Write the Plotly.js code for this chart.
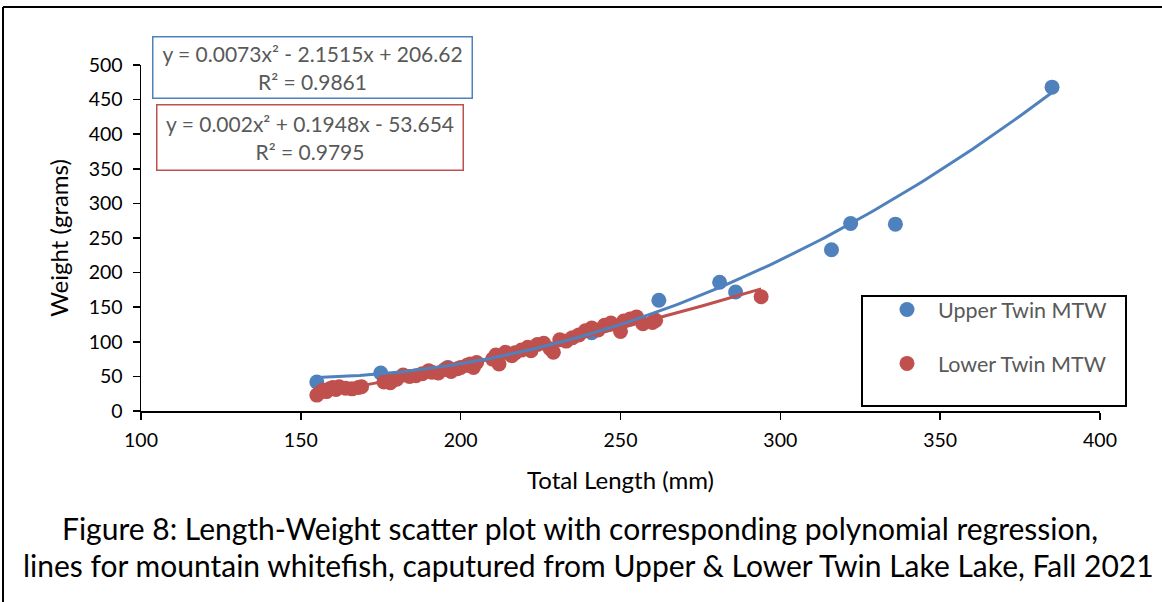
<!DOCTYPE html>
<html><head><meta charset="utf-8">
<script src="https://cdn.plot.ly/plotly-3.0.1.min.js"></script>
<style>html,body{margin:0;padding:0;background:#fff}#chart{width:1162px;height:602px}</style>
</head><body><div id="chart"></div>
<script>
// ---- data ----
const upperName = 'Upper Twin MTW';
const lowerName = 'Lower Twin MTW';
const upperLength = [155, 175, 196, 241, 262, 281, 286, 316, 322, 336, 385];
const upperWeight = [42, 55, 63, 113, 160, 186, 172, 233, 271, 270, 468];
const lowerLength = [155,156,157,158,159,160,161,162,164,166,168,169,176,177,178,180,182,184,186,188,190,191,193,195,196,197,199,200,202,203,204,205,210,211,212,214,216,217,219,221,222,224,226,228,229,231,233,235,237,239,241,243,245,247,250,251,253,255,257,260,261,294];
const lowerWeight = [23,27,30,28,32,34,31,35,33,32,34,35,42,44,41,46,52,50,51,54,58,56,55,60,62,57,61,63,66,68,63,70,75,81,68,85,80,84,88,92,87,96,98,90,85,103,101,106,110,116,120,117,124,127,115,130,133,136,126,128,131,165];
// polynomial trendline coefficients (a x^2 + b x + c), as printed on the chart
const upperCoef = [0.0073, -2.1515, 206.62];
const lowerCoef = [0.002, 0.1948, -53.654];
const upperEqText = ['y = 0.0073x² - 2.1515x + 206.62', 'R² = 0.9861'];
const lowerEqText = ['y = 0.002x² + 0.1948x - 53.654', 'R² = 0.9795'];
const xTicks = [100, 150, 200, 250, 300, 350, 400];
const yTicks = [0, 50, 100, 150, 200, 250, 300, 350, 400, 450, 500];
const xTitle = 'Total Length (mm)';
const yTitle = 'Weight (grams)';
const caption1 = 'Figure 8: Length-Weight scatter plot with corresponding polynomial regression,';
const caption2 = 'lines for mountain whitefish, caputured from Upper & Lower Twin Lake Lake, Fall 2021';

const BLUE = '#4F81BD', RED = '#C0504D', GREY = '#595959';
const FONT = 'Lato, Carlito, Calibri, sans-serif';

function trend(xs, coef) {
  const lo = Math.min(...xs), hi = Math.max(...xs);
  const X = [], Y = [];
  const n = 120;
  for (let i = 0; i <= n; i++) {
    const x = lo + (hi - lo) * i / n;
    X.push(x); Y.push(coef[0]*x*x + coef[1]*x + coef[2]);
  }
  return {X, Y};
}
const tu = trend(upperLength, upperCoef);
const tl = trend(lowerLength, lowerCoef);

const traces = [
  {x: upperLength, y: upperWeight, type: 'scatter', mode: 'markers', name: upperName,
   legendgroup: 'u', marker: {color: BLUE, size: 15}},
  {x: lowerLength, y: lowerWeight, type: 'scatter', mode: 'markers', name: lowerName,
   legendgroup: 'l', marker: {color: RED, size: 15}},
  {x: tl.X, y: tl.Y, type: 'scatter', mode: 'lines', showlegend: false, hoverinfo: 'skip',
   line: {color: RED, width: 3}},
  {x: tu.X, y: tu.Y, type: 'scatter', mode: 'lines', showlegend: false, hoverinfo: 'skip',
   line: {color: BLUE, width: 3}}
];

const L = 141, R = 1100, T = 65, B = 411;
const px = v => (v - L) / (R - L);
const py = v => (B - v) / (B - T);

const axBase = {showgrid: false, zeroline: false, showline: true, linecolor: '#000', linewidth: 1.5,
  tickcolor: '#000', tickwidth: 1.5, ticklen: 7};

const layout = {
  width: 1162, height: 602,
  margin: {l: L, r: 1162 - R, t: T, b: 602 - B},
  paper_bgcolor: '#fff', plot_bgcolor: '#fff',
  font: {family: FONT, color: '#000', size: 19.5},
  showlegend: true,
  xaxis: Object.assign({}, axBase, {range: [100, 400], tickvals: xTicks, ticks: 'outside',
    tickfont: {size: 19.5, color: '#000'}, ticklabelstandoff: 4,
    title: {text: xTitle, font: {size: 24, color: '#000'}, standoff: 22}}),
  yaxis: Object.assign({}, axBase, {range: [0, 500], tickvals: yTicks, ticks: 'outside',
    tickfont: {size: 19.5, color: '#000'}, ticklabelstandoff: 6,
    title: {text: yTitle, font: {size: 24, color: '#000'}, standoff: 13}}),
  xaxis2: Object.assign({}, axBase, {range: [100, 400], tickvals: xTicks, ticks: 'inside',
    overlaying: 'x', showticklabels: false, anchor: 'y'}),
  yaxis2: Object.assign({}, axBase, {range: [0, 500], tickvals: yTicks, ticks: 'inside',
    overlaying: 'y', showticklabels: false, anchor: 'x'}),
  legend: {x: px(864), y: py(289), xanchor: 'left', yanchor: 'top',
    borderwidth: 0, bgcolor: 'rgba(0,0,0,0)',
    font: {size: 21.5, color: GREY, family: FONT},
    traceorder: 'grouped', tracegroupgap: 23, indentation: 12, itemwidth: 52},
  annotations: [
    {xref: 'paper', yref: 'paper', x: px(312.5), y: py(68), xanchor: 'center', yanchor: 'middle',
     text: upperEqText.join('<br>'), showarrow: false, align: 'center',
     font: {size: 21, color: GREY, family: FONT}, bordercolor: BLUE, borderwidth: 1.5, borderpad: 3,
     bgcolor: '#fff', width: 312, height: 54},
    {xref: 'paper', yref: 'paper', x: px(310), y: py(137), xanchor: 'center', yanchor: 'middle',
     text: lowerEqText.join('<br>'), showarrow: false, align: 'center',
     font: {size: 21, color: GREY, family: FONT}, bordercolor: RED, borderwidth: 1.5, borderpad: 3,
     bgcolor: '#fff', width: 299, height: 58},
    {xref: 'paper', yref: 'paper', x: px(580), y: py(528), xanchor: 'center', yanchor: 'middle',
     text: caption1, showarrow: false, font: {size: 30, color: '#000', family: FONT}},
    {xref: 'paper', yref: 'paper', x: px(588), y: py(565), xanchor: 'center', yanchor: 'middle',
     text: caption2, showarrow: false, font: {size: 30, color: '#000', family: FONT}}
  ],
  shapes: [
    {type: 'rect', xref: 'paper', yref: 'paper', x0: px(862), x1: px(1126), y0: py(296), y1: py(406),
     line: {color: '#000', width: 2}, fillcolor: '#fff', layer: 'above'},
    {type: 'line', xref: 'paper', yref: 'paper', x0: px(3), x1: px(1162), y0: py(7), y1: py(7),
     line: {color: '#000', width: 2}},
    {type: 'line', xref: 'paper', yref: 'paper', x0: px(3), x1: px(3), y0: py(7), y1: py(602),
     line: {color: '#000', width: 2}}
  ]
};

Plotly.newPlot('chart', traces, layout, {displayModeBar: false, staticPlot: true});
</script></body></html>
